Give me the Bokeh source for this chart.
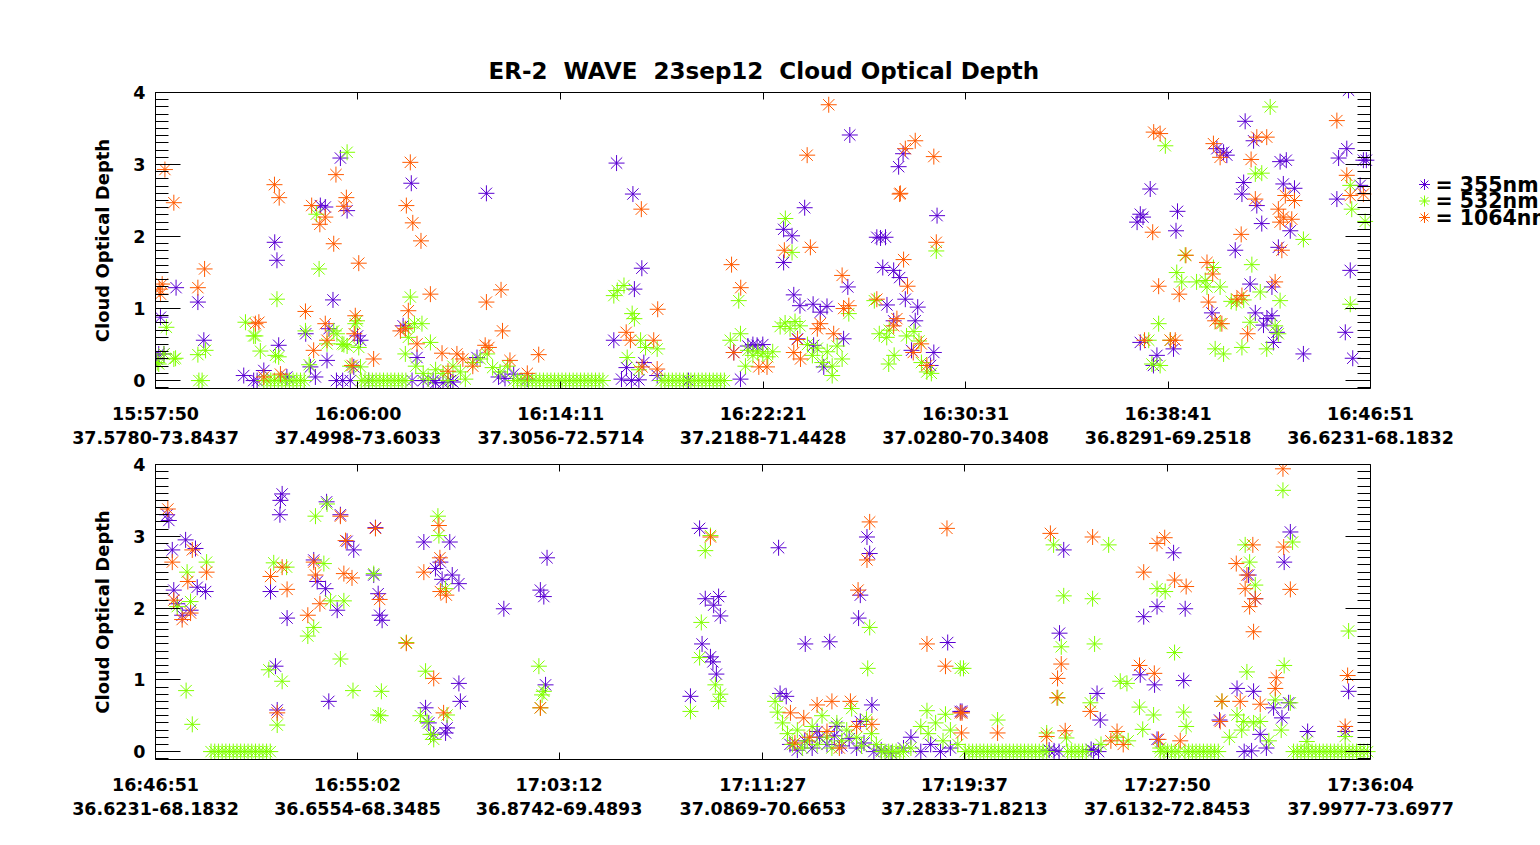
from bokeh.plotting import figure
from bokeh.models import Range1d, FixedTicker, SingleIntervalTicker, LinearAxis
from bokeh.layouts import column
from bokeh.embed import file_html
from bokeh.resources import INLINE
from bokeh.core.properties import value

TITLE = "ER-2\u00a0 WAVE\u00a0 23sep12\u00a0 Cloud Optical Depth"
Y_LABEL = "Cloud Optical Depth"
LEGEND_LABELS = ["= 355nm", "= 532nm", "= 1064nm"]
COLORS = ["#5a00d2", "#80ff00", "#ff5a00"]  # 355, 532, 1064

# x axis: elapsed minutes since panel start; tick labels = time + lat-lon
top_tick_min = [0.0, 8.1667, 16.35, 24.5167, 32.6833, 40.85, 49.0167]
top_tick_time = ["15:57:50", "16:06:00", "16:14:11", "16:22:21", "16:30:31", "16:38:41", "16:46:51"]
top_tick_pos = ["37.5780-73.8437", "37.4998-73.6033", "37.3056-72.5714", "37.2188-71.4428",
                "37.0280-70.3408", "36.8291-69.2518", "36.6231-68.1832"]
bot_tick_min = [0.0, 8.1833, 16.35, 24.6, 32.7667, 40.9833, 49.2167]
bot_tick_time = ["16:46:51", "16:55:02", "17:03:12", "17:11:27", "17:19:37", "17:27:50", "17:36:04"]
bot_tick_pos = ["36.6231-68.1832", "36.6554-68.3485", "36.8742-69.4893", "37.0869-70.6653",
                "37.2833-71.8213", "37.6132-72.8453", "37.9977-73.6977"]

# ---- top panel (minutes, cloud optical depth) ----
top_355 = [(0.05,0.3),(0.13,0.37),(0.2,0.88),(0.34,0.37),(0.83,1.29),(1.71,1.09),(1.95,0.56),
    (3.56,0.07),(3.96,0.0),(4.1,0.0),(4.37,0.14),(4.81,1.92),(4.9,1.67),(4.97,0.49),(5.3,0.05),
    (6.06,0.65),(6.25,0.19),(6.45,0.05),(6.65,2.43),(6.85,2.41),(6.92,0.28),(7.0,0.72),(7.16,1.12),
    (7.3,0.0),(7.46,3.09),(7.55,0.0),(7.73,2.36),(7.86,0.0),(8.0,0.19),(8.15,0.62),(8.27,0.56),
    (8.6,0.0),(9.99,0.76),(10.32,2.74),(10.35,0.0),(10.55,0.32),(10.8,0.0),(11.2,0.0),(11.3,-0.03),
    (11.6,-0.03),(11.9,0.0),(12.0,-0.02),(12.97,0.32),(13.35,2.6),(13.84,0.05),(14.1,0.03),
    (14.45,0.09),(15.0,0.02),
    (18.6,3.02),(19.26,2.59),(19.62,1.56),(19.32,1.27),(18.49,0.56),(19.0,0.18),(19.7,0.25),
    (18.8,0.02),(19.2,0.0),(19.5,0.01),(20.24,0.07),(21.5,0.0),(23.33,0.39),(23.6,0.02),(23.9,0.48),
    (24.1,0.5),(24.27,0.49),(24.5,0.5),(25.34,2.1),(25.68,2.01),(25.34,1.64),(26.19,2.4),(25.75,1.19),
    (26.0,1.04),(26.53,1.06),(27.09,1.03),(26.82,0.95),(25.9,0.58),(26.55,0.49),(26.96,0.19),
    (27.93,1.3),(27.76,0.58),(28.01,3.41),(29.98,2.97),(30.16,3.15),(29.1,1.99),(29.25,1.98),
    (29.45,1.99),(29.34,1.57),(29.78,1.53),(30.02,1.43),(29.51,1.05),(30.25,1.13),(30.75,1.02),
    (30.65,0.83),(29.78,0.83),(31.53,2.29),(31.4,0.39),(31.27,0.21),(30.5,0.42),
    (40.13,2.66),(39.73,2.31),(39.6,2.2),(39.84,2.27),(41.23,2.35),(41.17,2.08),(43.96,3.6),
    (44.3,3.33),(42.82,3.22),(43.09,3.17),(43.22,3.13),(45.37,3.04),(45.62,3.06),(43.9,2.75),
    (43.83,2.59),(44.43,2.43),(45.5,2.73),(45.95,2.67),(44.63,2.18),(45.78,2.08),(45.3,1.85),
    (43.56,1.81),(47.66,2.52),(47.73,3.09),(48.06,3.22),(48.73,3.06),(48.85,3.06),(48.13,4.03),
    (48.2,1.53),(48.0,0.67),(48.3,0.31),(46.31,0.37),(44.16,1.34),(45.04,1.3),(42.62,0.94),
    (44.37,0.94),(44.7,0.77),(44.84,0.86),(45.04,0.9),(45.1,0.53),(39.73,0.53),(40.4,0.35),
    (40.26,0.21),(41.07,0.44),(45.24,0.67),(48.6,2.71)]

top_532 = [(0.07,0.25),(0.13,0.23),(0.34,0.37),(0.44,0.74),(0.74,0.3),(0.81,0.31),(1.71,0.36),
    (2.02,0.42),(1.75,0.0),(1.88,0.0),(3.63,0.81),(3.96,0.62),(4.03,0.62),(4.23,0.41),(4.37,0.0),
    (4.84,0.35),(4.9,1.13),(4.97,0.33),
    (4.5,0.0),(4.65,0.0),(4.8,0.0),(4.95,0.0),(5.1,0.0),(5.25,0.0),(5.4,0.0),(5.55,0.0),(5.7,0.0),
    (5.85,0.0),(6.0,0.0),
    (6.05,0.69),(6.2,0.22),(6.49,2.31),(6.6,1.55),(6.92,0.51),(7.19,0.69),(7.32,0.65),(7.53,0.51),
    (7.6,0.5),(7.73,0.48),(7.73,3.17),(7.85,0.2),(8.13,0.83),(8.06,0.79),(8.2,0.46),(8.27,0.19),
    (8.3,0.0),(8.45,0.0),(8.6,0.0),(8.75,0.0),(8.9,0.0),(9.05,0.0),(9.2,0.0),(9.35,0.0),(9.5,0.0),
    (9.65,0.0),(9.8,0.0),(9.95,0.0),(10.1,0.0),
    (10.28,1.16),(10.21,0.74),(10.45,0.79),(10.75,0.79),(10.08,0.37),(10.2,0.6),(11.09,0.53),
    (10.5,0.2),(10.8,0.1),(11.0,0.02),(11.3,0.15),(11.6,0.1),(11.8,0.0),(12.0,0.2),(12.3,0.12),
    (12.5,0.02),(12.8,0.25),(13.1,0.3),(13.38,0.37),(13.6,0.18),(13.9,0.12),(14.2,0.2),
    (14.45,0.0),(14.6,0.0),(14.75,0.0),(14.9,0.0),(15.05,0.0),(15.2,0.0),(15.35,0.0),(15.5,0.0),
    (15.65,0.0),(15.8,0.0),(15.95,0.0),(16.1,0.0),(16.25,0.0),(16.4,0.0),(16.55,0.0),(16.7,0.0),
    (16.85,0.0),(17.0,0.0),(17.15,0.0),(17.3,0.0),(17.45,0.0),(17.6,0.0),(17.75,0.0),(17.9,0.0),
    (18.05,0.0),
    (18.49,1.18),(18.63,1.25),(18.9,1.32),(19.23,0.93),(19.32,0.86),(19.57,0.56),(19.77,0.46),
    (20.24,0.44),(19.03,0.32),(19.5,0.15),
    (20.4,0.0),(20.55,0.0),(20.7,0.0),(20.85,0.0),(21.0,0.0),(21.15,0.0),(21.3,0.0),(21.45,0.0),
    (21.6,0.0),(21.75,0.0),(21.9,0.0),(22.05,0.0),(22.2,0.0),(22.35,0.0),(22.5,0.0),(22.65,0.0),
    (22.8,0.0),(22.95,0.0),
    (23.53,1.11),(23.19,0.56),(23.6,0.65),(23.9,0.42),(24.1,0.35),(24.3,0.4),(24.5,0.38),
    (24.7,0.33),(24.9,0.4),(23.8,0.2),(25.41,2.25),(25.68,1.78),(25.2,0.75),(25.4,0.8),(25.6,0.72),
    (25.8,0.82),(26.0,0.76),(26.3,0.5),(26.5,0.35),(26.7,0.45),(26.9,0.25),(27.1,0.4),(27.3,0.2),
    (27.5,0.48),(27.7,0.3),(27.3,0.07),(27.97,0.93),(29.0,1.11),(29.2,0.65),(29.5,0.6),(29.6,0.7),
    (29.58,0.23),(29.8,0.35),(30.3,0.62),(30.6,0.68),(30.8,0.55),(31.5,1.8),(31.12,0.12),
    (30.9,0.25),(31.3,0.1),
    (44.97,3.8),(40.74,3.26),(44.37,2.87),(44.63,2.88),(46.31,1.96),(48.26,2.38),(48.8,2.21),
    (48.2,2.71),(41.54,1.74),(41.2,1.5),(41.4,1.37),(42.68,1.57),(42.35,1.39),(42.0,1.37),
    (42.95,1.3),(42.42,1.3),(44.23,1.61),(44.57,1.23),(45.37,1.11),(43.4,1.1),(43.6,1.08),
    (43.9,1.12),(40.47,0.79),(40.07,0.56),(40.94,0.56),(40.2,0.23),(40.53,0.21),(42.75,0.44),
    (43.09,0.37),(43.83,0.46),(44.83,0.44),(44.16,0.81),(45.17,0.76),(45.3,0.65),(42.95,0.79),
    (48.2,1.06)]

top_1064 = [(0.15,1.27),(0.27,1.34),(0.2,1.2),(0.38,2.93),(0.74,2.47),(1.71,1.29),(1.98,1.55),
    (4.03,0.79),(4.17,0.81),(4.37,0.05),(4.8,2.72),(4.99,2.54),(5.04,0.09),(6.05,0.96),(6.3,2.43),
    (6.38,0.42),(6.63,2.17),(6.85,2.27),(6.85,0.79),(6.92,0.56),(7.28,2.86),(7.19,1.9),(7.6,2.42),
    (7.7,2.54),(7.93,0.21),(8.2,1.63),(8.06,0.9),(8.02,0.65),(8.8,0.3),(10.28,3.03),(10.12,2.43),
    (10.38,2.19),(10.71,1.94),(10.2,0.97),(10.08,0.72),(10.55,0.51),(9.88,0.69),(11.09,1.2),
    (11.56,0.38),(11.8,0.13),(12.16,0.37),(12.4,0.3),(12.8,0.2),(13.35,1.09),(13.94,1.26),
    (14.0,0.69),(13.3,0.49),(13.45,0.46),(14.3,0.28),(15.0,0.1),(15.46,0.36),
    (19.6,2.38),(20.26,0.99),(18.99,0.67),(19.16,0.56),(20.1,0.56),(19.63,0.19),(20.24,0.16),
    (23.24,1.61),(23.61,1.29),(23.33,0.39),(24.34,0.19),(24.67,0.19),(26.29,3.13),(27.16,3.83),
    (26.42,1.85),(25.37,1.81),(27.7,1.46),(27.97,1.04),(27.76,1.0),(26.82,0.79),(26.7,0.72),
    (25.75,0.39),(26.02,0.3),(25.9,0.57),(27.36,0.65),(30.02,2.59),(30.05,2.6),(30.25,3.22),
    (30.65,3.33),(31.4,3.11),(31.5,1.92),(30.18,1.68),(30.34,1.31),(29.1,1.13),(29.78,0.76),
    (29.91,0.86),(30.89,0.51),(30.57,0.39),(31.12,0.21),
    (40.27,3.45),(40.53,3.43),(42.68,3.29),(42.95,3.1),(44.43,3.38),(44.83,3.38),(47.66,3.61),
    (44.2,3.07),(44.37,2.52),(45.3,2.38),(45.58,2.57),(45.95,2.5),(45.37,2.2),(45.5,2.27),
    (45.84,2.24),(45.44,1.81),(43.8,2.03),(40.23,2.06),(48.06,2.85),(48.2,2.57),(48.73,2.59),
    (41.57,1.74),(42.42,1.64),(42.65,1.48),(40.47,1.31),(41.3,1.2),(42.48,1.09),(45.17,1.37),
    (43.63,1.13),(43.83,1.18),(42.75,0.83),(43.02,0.79),(44.06,0.65),(39.9,0.56),(40.94,0.56),
    (41.14,0.56)]

# ---- bottom panel ----
bot_355 = [(0.54,3.22),(0.47,3.3),(0.68,2.81),(1.22,2.95),(1.62,2.83),(0.74,2.25),(1.69,2.29),
    (2.03,2.23),(0.88,2.06),(1.08,1.9),(1.42,1.97),(4.66,2.23),(5.04,3.3),(5.13,3.59),(5.06,3.5),
    (5.33,1.86),(4.86,1.19),(4.93,0.58),(6.41,2.67),(6.55,2.37),(6.89,2.27),(6.93,3.48),(7.49,3.3),
    (7.76,2.93),(8.03,2.81),(7.36,1.97),(7.02,0.7),(8.91,3.12),(8.84,2.46),(9.02,2.2),(9.08,1.9),
    (9.18,1.83),(10.87,2.92),(11.92,2.92),(11.54,2.64),(11.34,2.55),(11.61,2.4),(12.02,2.46),
    (12.29,2.34),(12.29,0.95),(12.35,0.7),(10.94,0.61),(11.07,0.4),(11.27,0.24),(11.81,0.33),
    (11.75,0.26),(14.11,1.99),(15.59,2.25),(15.73,2.16),(15.86,2.7),(15.8,0.93),
    (22.04,3.11),(22.27,2.13),(22.81,2.16),(22.61,2.04),(22.88,1.89),(22.14,1.5),(22.48,1.32),
    (22.58,1.25),(22.72,1.08),(21.67,0.77),(25.24,2.84),(28.82,2.99),(28.93,2.76),(28.55,2.18),
    (28.48,1.86),(26.32,1.5),(27.31,1.53),(32.09,1.52),(25.3,0.81),(25.55,0.77),(29.02,0.65),
    (32.67,0.56),(26.8,0.28),(27.6,0.35),(28.55,0.42),
    (25.7,0.1),(26.0,0.02),(26.3,0.15),(26.6,0.05),(26.9,0.2),(27.2,0.1),(27.5,0.22),(27.8,0.08),
    (28.1,0.18),(28.4,0.05),(28.7,0.12),(29.1,0.0),(29.4,0.02),(29.8,-0.02),(30.3,0.05),(30.6,0.2),
    (31.0,0.0),(31.4,0.1),(31.8,0.0),(32.2,0.05),
    (36.79,2.81),(36.62,1.65),(38.14,0.81),(38.27,0.44),(40.57,2.02),(40.03,1.88),(41.24,2.77),
    (41.71,1.99),(39.89,1.07),(40.47,0.93),(41.65,0.99),(44.28,2.46),(44.55,2.13),(45.72,2.64),
    (45.97,3.06),(43.81,0.88),(44.48,0.84),(45.9,0.68),(45.29,0.61),(45.63,0.47),(46.67,0.28),
    (48.33,0.84),(48.2,0.28),(32.6,0.56),(36.2,0.02),(36.4,0.01),(36.6,0.0),(37.9,0.03),(38.0,0.01),
    (38.2,0.0),(40.57,0.17),(44.1,0.0),(44.4,0.01),(43.1,0.44),(44.75,0.24),(45.0,0.05)]

bot_532 = [(0.88,2.02),(1.28,2.5),(1.42,2.09),(2.07,2.64),(1.24,0.85),(1.49,0.38),
    (2.25,0.0),(2.4,0.0),(2.55,0.0),(2.7,0.0),(2.85,0.0),(3.0,0.0),(3.15,0.0),(3.3,0.0),(3.45,0.0),
    (3.6,0.0),(3.75,0.0),(3.9,0.0),(4.05,0.0),(4.2,0.0),(4.35,0.0),(4.5,0.0),(4.65,0.0),
    (4.59,1.14),(4.79,2.63),(5.31,2.57),(5.13,0.98),(4.93,0.37),(6.48,3.28),(6.95,3.45),(6.82,2.62),
    (6.41,1.73),(6.17,1.61),(7.09,2.1),(7.63,2.1),(7.49,1.29),(8.0,0.85),(8.84,2.48),(9.15,0.84),
    (9.02,0.51),(9.12,0.5),(10.16,1.52),(10.94,1.12),(11.44,3.28),(11.48,3.01),(11.75,2.27),
    (10.73,0.5),(11.0,0.42),(11.14,0.24),(11.27,0.17),(11.81,0.51),(15.53,1.19),(15.73,0.84),
    (15.66,0.79),(15.59,0.61),
    (22.48,3.01),(22.27,2.8),(22.11,1.8),(22.04,1.31),(22.68,0.93),(22.88,0.8),(22.81,0.7),
    (21.67,0.56),(28.93,1.73),(28.85,1.16),(32.6,1.16),(31.25,0.57),(32.0,0.52),
    (25.1,0.7),(25.2,0.55),(25.4,0.4),(25.6,0.25),(25.8,0.1),(26.0,0.3),(26.2,0.05),(26.4,0.15),
    (26.6,0.35),(26.8,0.1),(27.0,0.5),(27.2,0.2),(27.4,0.05),(27.6,0.4),(27.8,0.15),(28.0,0.3),
    (28.2,0.6),(28.4,0.2),(28.6,0.08),(28.8,0.45),(29.0,0.25),(29.2,0.1),(31.0,0.35),(31.3,0.25),
    (31.6,0.4),(31.9,0.15),(32.2,0.3),(32.5,0.1),(30.6,0.05),
    (29.4,0.0),(29.55,0.0),(29.7,0.0),(29.85,0.0),(30.0,0.0),(30.15,0.0),(30.3,0.0),
    (32.8,0.0),(32.95,0.0),(33.1,0.0),(33.25,0.0),(33.4,0.0),(33.55,0.0),(33.7,0.0),(33.85,0.0),
    (34.0,0.0),(34.15,0.0),(34.3,0.0),(34.45,0.0),(34.6,0.0),(34.75,0.0),(34.9,0.0),(35.05,0.0),
    (35.2,0.0),(35.35,0.0),(35.5,0.0),(35.65,0.0),(35.8,0.0),(35.95,0.0),(36.1,0.0),
    (36.95,0.0),(37.1,0.0),(37.25,0.0),(37.4,0.0),(37.55,0.0),(37.7,0.0),
    (40.7,0.0),(40.85,0.0),(41.0,0.0),(41.15,0.0),(41.3,0.0),(41.45,0.0),
    (41.7,0.0),(41.85,0.0),(42.0,0.0),(42.15,0.0),(42.3,0.0),(42.45,0.0),(42.6,0.0),(42.75,0.0),
    (42.9,0.0),(43.05,0.0),
    (46.1,0.0),(46.25,0.0),(46.4,0.0),(46.55,0.0),(46.7,0.0),(46.85,0.0),(47.0,0.0),(47.15,0.0),
    (47.3,0.0),(47.45,0.0),(47.6,0.0),(47.75,0.0),(47.9,0.0),(48.05,0.0),(48.2,0.0),(48.35,0.0),
    (48.5,0.0),(48.65,0.0),(48.8,0.0),(48.95,0.0),(49.1,0.0),
    (45.67,3.64),(46.06,2.92),(44.14,2.88),(44.32,2.64),(44.55,2.32),(36.38,2.88),(38.61,2.88),
    (36.79,2.17),(37.96,2.13),(36.69,1.46),(38.04,1.5),(40.57,2.27),(40.9,2.23),(41.28,1.38),
    (48.33,1.68),(44.21,1.11),(45.72,1.2),(39.08,0.98),(39.35,0.95),(36.55,0.75),(37.87,0.68),
    (39.86,0.62),(40.43,0.51),(41.65,0.55),(41.75,0.35),(39.99,0.31),(34.11,0.44),(32.73,1.16),
    (36.1,0.26),(36.9,0.19),(38.95,0.2),(43.2,0.7),(43.81,0.51),(44.08,0.42),(44.48,0.4),
    (44.75,0.42),(45.36,0.72),(45.97,0.68),(46.64,0.14),(48.19,0.21),(38.3,0.1),(39.4,0.15),
    (40.7,0.05),(43.5,0.2),(44.0,0.3),(45.1,0.15),(45.6,0.3)]

bot_1064 = [(0.5,3.38),(0.68,2.64),(0.74,2.11),(1.08,1.84),(1.31,2.37),(1.42,1.93),(1.49,2.81),
    (2.07,2.5),(4.66,2.44),(5.13,2.57),(5.33,2.26),(4.93,0.54),(6.17,1.9),(6.66,2.06),(6.48,2.46),
    (6.41,2.64),(7.63,2.48),(7.96,2.42),(7.49,3.28),(7.7,2.94),(8.91,3.11),(9.08,2.12),(10.16,1.51),
    (10.87,2.5),(11.48,3.15),(11.52,2.7),(11.54,2.23),(11.78,2.18),(11.27,1.02),(11.67,0.54),
    (15.59,0.61),
    (22.48,2.99),(28.93,3.2),(28.82,2.67),(28.46,2.25),(32.06,3.11),(31.25,1.5),(32.0,1.19),
    (26.8,0.65),(27.4,0.7),(28.15,0.7),(25.72,0.54),(26.26,0.47),(29.02,0.38),(32.67,0.54),
    (27.2,0.28),(27.7,0.05),(25.9,0.12),(26.5,0.2),(28.4,0.35),
    (36.25,3.04),(37.96,2.99),(40.57,2.9),(40.88,2.98),(40.03,2.5),(41.28,2.39),(41.75,2.3),
    (43.78,2.62),(44.45,2.88),(44.21,2.46),(44.14,2.27),(44.55,2.13),(44.32,2.02),(44.48,1.67),
    (45.67,3.94),(45.7,2.85),(45.97,2.26),(36.69,1.22),(36.54,1.02),(36.52,0.75),(39.86,1.2),
    (40.46,1.09),(37.87,0.56),(34.11,0.26),(36.1,0.21),(36.85,0.29),(38.95,0.28),(40.63,0.17),
    (41.51,0.15),(43.2,0.7),(43.94,0.7),(44.75,0.66),(45.4,1.03),(45.36,0.88),(43.13,0.42),
    (48.29,1.06),(48.19,0.35),(32.6,0.54),(32.65,0.26),(38.7,0.15),(39.2,0.1)]

FONT = "DejaVu Sans"
CANVAS_W = 1540
FRAME_L, FRAME_R = 155, 1370          # plot box, page pixels
Y_MIN, Y_MAX = -0.11, 4.0


def style_axis(ax, label_size, show_labels=True):
    ax.axis_line_color = "black"
    ax.major_tick_line_color = "black"
    ax.minor_tick_line_color = "black"
    ax.major_tick_out = 0
    ax.minor_tick_out = 0
    ax.major_label_text_font = FONT
    ax.major_label_text_font_style = "bold"
    ax.major_label_text_font_size = label_size
    ax.major_label_text_color = "black" if show_labels else None


def make_panel(tmin, ttime, tpos, series, height, mbt, mbb, title=None):
    x0, x1 = tmin[0], tmin[-1]
    # the frame runs to the canvas edge; the plot box itself is drawn by the four axes
    scale = (FRAME_R - FRAME_L) / (x1 - x0)
    x_end = x1 + (CANVAS_W - FRAME_R) / scale
    p = figure(width=CANVAS_W, height=height, output_backend="svg", toolbar_location=None,
               x_range=Range1d(x0, x_end), y_range=Range1d(Y_MIN, Y_MAX),
               x_axis_type=None, y_axis_type=None,
               min_border_left=FRAME_L, min_border_right=0,
               min_border_top=mbt, min_border_bottom=mbb)
    p.outline_line_color = None
    p.background_fill_color = "white"
    p.border_fill_color = "white"
    if title:
        p.title.text = title
        p.title.align = "left"
        p.title.offset = 333
        p.title.text_font = FONT
        p.title.text_font_style = "bold"
        p.title.text_font_size = "23px"
        p.title.text_color = "black"
        p.title.standoff = 17

    xt = FixedTicker(ticks=tmin, minor_ticks=[])
    overrides = {t: f"{a}\n{b}" for t, a, b in zip(tmin, ttime, tpos)}
    bottom = LinearAxis(ticker=xt, major_label_overrides=overrides, bounds=(x0, x1))
    style_axis(bottom, "17.5px")
    bottom.major_tick_in = 7
    bottom.minor_tick_in = 0
    bottom.major_label_standoff = 15
    bottom.major_label_text_line_height = 1.2
    p.add_layout(bottom, "below")

    top = LinearAxis(ticker=xt, bounds=(x0, x1))
    style_axis(top, "1px", show_labels=False)
    top.major_tick_in = 7
    top.minor_tick_in = 0
    top.major_label_standoff = 0
    p.add_layout(top, "above")

    yt = SingleIntervalTicker(interval=1, num_minor_ticks=10)
    left = LinearAxis(ticker=yt, axis_label=Y_LABEL)
    style_axis(left, "17.5px")
    left.major_tick_in = 25
    left.minor_tick_in = 13
    left.major_label_standoff = 10
    left.axis_label_text_font = FONT
    left.axis_label_text_font_style = "bold"
    left.axis_label_text_font_size = "18px"
    left.axis_label_text_color = "black"
    left.axis_label_standoff = 17
    p.add_layout(left, "left")

    right = LinearAxis(ticker=yt, fixed_location=x1)
    style_axis(right, "1px", show_labels=False)
    right.major_tick_in = 25
    right.minor_tick_in = 13
    right.major_label_standoff = 0
    p.add_layout(right, "right")

    for pts, color in zip(series, COLORS):
        p.scatter([q[0] for q in pts], [q[1] for q in pts], marker="asterisk",
                  size=16, line_color=color, line_width=1)
    return p


p1 = make_panel(top_tick_min, top_tick_time, top_tick_pos,
                [top_355, top_532, top_1064], 452, 92, 64, TITLE)
p2 = make_panel(bot_tick_min, bot_tick_time, bot_tick_pos,
                [bot_355, bot_532, bot_1064], 377, 12, 70)

# legend to the right of the top plot box: layout given in page pixels, mapped to data units
FRAME_T, FRAME_B = 92, 388
LEG_MARK_PX, LEG_TEXT_PX = 1424, 1435
LEG_ROWS_PX = [184, 200.5, 217]
xs = (FRAME_R - FRAME_L) / (top_tick_min[-1] - top_tick_min[0])
ys = (FRAME_B - FRAME_T) / (Y_MAX - Y_MIN)
leg_mx = [(LEG_MARK_PX - FRAME_L) / xs] * 3
leg_tx = [(LEG_TEXT_PX - FRAME_L) / xs] * 3
leg_y = [Y_MIN + (FRAME_B - py) / ys for py in LEG_ROWS_PX]
p1.scatter(leg_mx, leg_y, marker="asterisk", size=11, line_color=COLORS, line_width=1)
p1.text(leg_tx, leg_y, text=LEGEND_LABELS, text_font=value(FONT), text_font_style="bold",
        text_font_size="20.5px", text_baseline="middle", text_align="left", text_color="black")

layout = column(p1, p2)
open("out.html", "w").write(file_html(layout, INLINE))
